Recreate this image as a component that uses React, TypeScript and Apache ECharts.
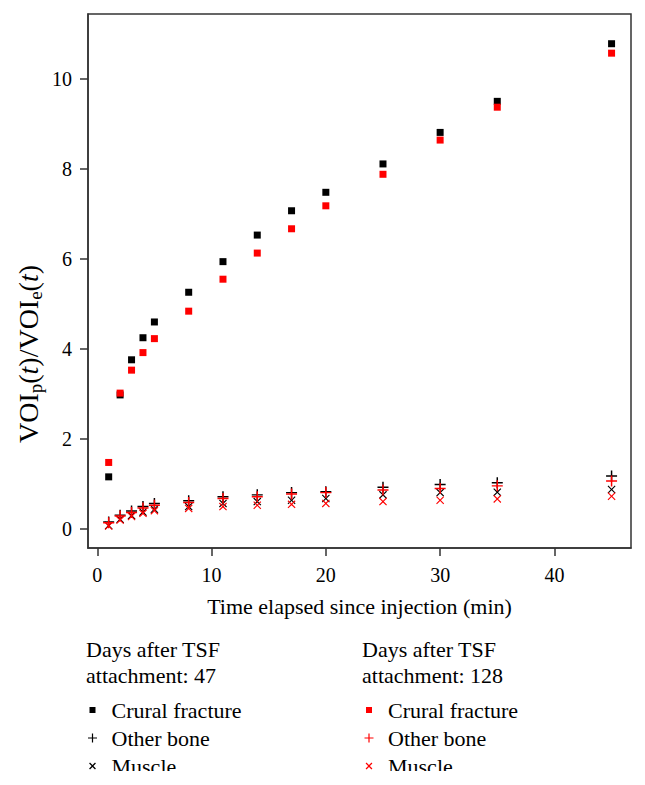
import React, { useEffect, useRef } from "react";
import * as echarts from "echarts";

// Sampling times (min after injection)
const times = [1, 2, 3, 4, 5, 8, 11, 14, 17, 20, 25, 30, 35, 45];

// VOI_p(t)/VOI_e(t), 47 days after TSF attachment
const crural47 = [1.16, 2.98, 3.76, 4.25, 4.6, 5.26, 5.94, 6.53, 7.07, 7.48, 8.11, 8.81, 9.5, 10.78];
const bone47 = [0.16, 0.31, 0.4, 0.5, 0.57, 0.63, 0.72, 0.76, 0.81, 0.83, 0.93, 0.99, 1.03, 1.18];
const muscle47 = [0.08, 0.22, 0.3, 0.38, 0.44, 0.5, 0.57, 0.61, 0.64, 0.68, 0.76, 0.81, 0.82, 0.88];

// VOI_p(t)/VOI_e(t), 128 days after TSF attachment
const crural128 = [1.48, 3.02, 3.53, 3.92, 4.23, 4.84, 5.55, 6.13, 6.67, 7.18, 7.88, 8.64, 9.37, 10.57];
const bone128 = [0.14, 0.29, 0.37, 0.47, 0.53, 0.59, 0.68, 0.72, 0.78, 0.81, 0.87, 0.9, 0.96, 1.07];
const muscle128 = [0.07, 0.2, 0.28, 0.35, 0.41, 0.46, 0.5, 0.53, 0.55, 0.57, 0.61, 0.64, 0.67, 0.73];

const xTicks = [0, 10, 20, 30, 40];
const yTicks = [0, 2, 4, 6, 8, 10];

const groups = [
  { days: 47, color: "#000000", crural: crural47, bone: bone47, muscle: muscle47 },
  { days: 128, color: "#ff0000", crural: crural128, bone: bone128, muscle: muscle128 },
];

const FONT = "'Liberation Serif', 'Times New Roman', serif";

// marker shapes for the plot
const PLUS = "path://M5.2,0H6.8V5.2H12V6.8H6.8V12H5.2V6.8H0V5.2H5.2Z";
const CROSS = "path://M0,1L1,0L5,4L9,0L10,1L6,5L10,9L9,10L5,6L1,10L0,9L4,5Z";

// legend icons: the leading moves fix a 19x10 box so the glyph sits at its left
const ICON_SQUARE = "path://M0,0M19,10M2,2H8V8H2Z";
const ICON_PLUS = "path://M0,0M19,10M4.4,0.5H5.6V4.4H9.5V5.6H5.6V9.5H4.4V5.6H0.5V4.4H4.4Z";
const ICON_CROSS = "path://M0,0M19,10M1.6,2.5L2.5,1.6L5,4.1L7.5,1.6L8.4,2.5L5.9,5L8.4,7.5L7.5,8.4L5,5.9L2.5,8.4L1.6,7.5L4.1,5Z";

const kinds = [
  { key: "crural", label: "Crural fracture", symbol: "rect", size: 7, icon: ICON_SQUARE },
  { key: "bone", label: "Other bone", symbol: PLUS, size: 11, icon: ICON_PLUS },
  { key: "muscle", label: "Muscle", symbol: CROSS, size: 8, icon: ICON_CROSS },
] as const;

export default function App() {
  const ref = useRef<HTMLDivElement>(null);

  useEffect(() => {
    document.body.style.margin = "0";
    if (!ref.current) return;
    const chart = echarts.init(ref.current, undefined, { renderer: "svg" });

    const series: any[] = [];
    groups.forEach((g) => {
      kinds.forEach((k) => {
        const vals = (g as any)[k.key] as number[];
        series.push({
          type: "scatter",
          name: `${k.label}|${g.days}`,
          symbol: k.symbol,
          symbolSize: k.size,
          itemStyle: { color: g.color, opacity: 1 },
          data: times.map((t, i) => [t, vals[i]]),
          z: 2,
        });
      });
    });

    const legendFor = (g: (typeof groups)[number], left: number) => ({
      left,
      top: 694,
      orient: "vertical",
      itemWidth: 19,
      itemHeight: 10,
      itemGap: 6,
      selectedMode: false,
      formatter: (name: string) => name.split("|")[0],
      textStyle: { fontFamily: FONT, fontSize: 22, lineHeight: 22, color: "#000" },
      data: kinds.map((k) => ({
        name: `${k.label}|${g.days}`,
        icon: k.icon,
        itemStyle: { color: g.color },
      })),
    });

    const titleFor = (g: (typeof groups)[number], left: number) => ({
      left,
      top: 631,
      text: `Days after TSF\nattachment: ${g.days}`,
      textStyle: { fontFamily: FONT, fontSize: 22, lineHeight: 26, fontWeight: "normal", color: "#000" },
    });

    chart.setOption({
      animation: false,
      backgroundColor: "#ffffff",
      title: [titleFor(groups[0], 81), titleFor(groups[1], 357)],
      legend: [legendFor(groups[0], 82.5), legendFor(groups[1], 359)],
      grid: {
        left: 88,
        right: 14,
        top: 14,
        bottom: 237,
        show: true,
        borderColor: "#333",
        borderWidth: 1.5,
        backgroundColor: "transparent",
      },
      xAxis: {
        type: "value",
        min: -0.81,
        max: 46.7,
        name: "Time elapsed since injection (min)",
        nameLocation: "middle",
        nameGap: 47,
        nameTextStyle: { fontFamily: FONT, fontSize: 22, color: "#000" },
        axisLine: { onZero: false, lineStyle: { color: "#333", width: 1.5 } },
        axisTick: { show: true, inside: false, length: 8, lineStyle: { color: "#333", width: 1.5 }, customValues: xTicks },
        axisLabel: { fontFamily: FONT, fontSize: 20, color: "#000", margin: 17, customValues: xTicks },
        splitLine: { show: false },
      },
      yAxis: {
        type: "value",
        min: -0.42,
        max: 11.44,
        axisLine: { show: true, onZero: false, lineStyle: { color: "#333", width: 1.5 } },
        axisTick: { show: true, inside: false, length: 8, lineStyle: { color: "#333", width: 1.5 }, customValues: yTicks },
        axisLabel: { fontFamily: FONT, fontSize: 20, color: "#000", margin: 16, customValues: yTicks },
        splitLine: { show: false },
      },
      graphic: [
        {
          type: "text",
          x: 28,
          y: 354,
          rotation: Math.PI / 2,
          style: {
            text: "VOI{sub|p}({it|t})/VOI{sub|e}({it|t})",
            fontFamily: FONT,
            fontSize: 28,
            lineHeight: 34,
            fill: "#000",
            align: "center",
            verticalAlign: "middle",
            rich: {
              sub: { fontFamily: FONT, fontSize: 19, lineHeight: 19, verticalAlign: "bottom", fill: "#000" },
              it: { fontFamily: FONT, fontSize: 28, lineHeight: 34, fontStyle: "italic", fill: "#000" },
            },
          },
        },
        {
          type: "rect",
          left: 0,
          top: 771,
          shape: { width: 645, height: 14 },
          style: { fill: "#ffffff" },
          z: 100,
        },
      ],
      series,
    });

    return () => chart.dispose();
  }, []);

  return <div ref={ref} style={{ width: 645, height: 785 }} />;
}
